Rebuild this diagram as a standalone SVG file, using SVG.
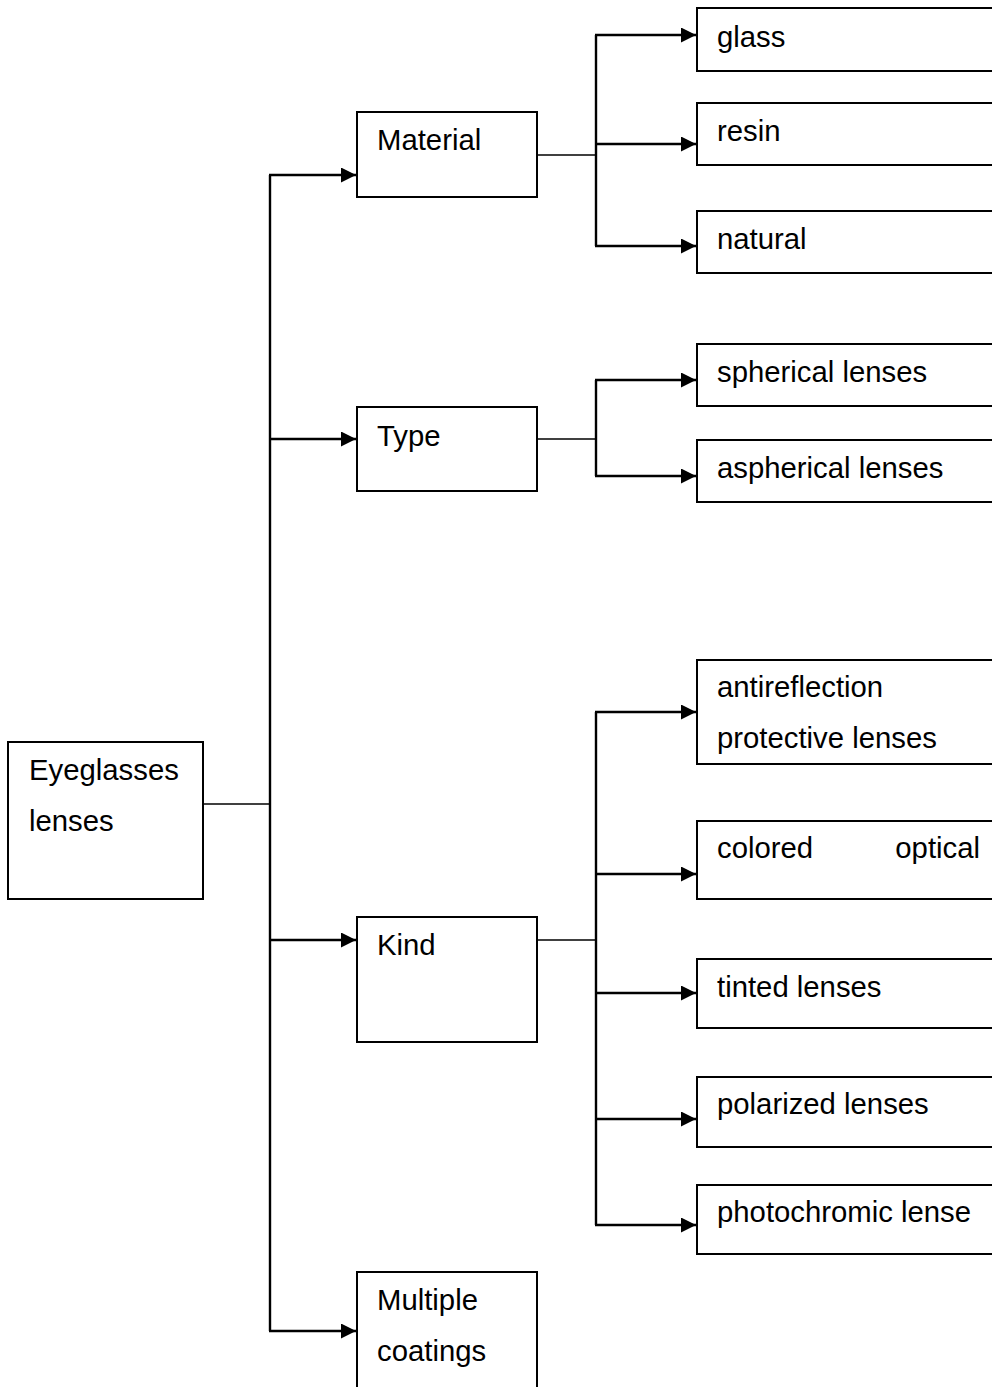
<svg xmlns="http://www.w3.org/2000/svg" width="992" height="1387" viewBox="0 0 992 1387">
<style>
.box{fill:#fff;stroke:#000;stroke-width:2}
.t{font-family:"Liberation Sans",Arial,sans-serif;font-size:29.3px;fill:#000}
.ln{fill:none;stroke:#000;stroke-width:1.6}
.ar{fill:none;stroke:#000;stroke-width:2.4;marker-end:url(#ah)}
.bus{fill:none;stroke:#000;stroke-width:2.4}
</style>
<defs>
<marker id="ah" markerUnits="userSpaceOnUse" markerWidth="16" markerHeight="16" refX="15" refY="7.5" orient="auto">
<path d="M0,0 L15,7.5 L0,15 Z" fill="#000"/>
</marker>
</defs>
<rect width="992" height="1387" fill="#fff"/>
<g id="connectors">
<line class="ln" x1="203" y1="804" x2="270" y2="804"/>
<line class="bus" x1="270" y1="175" x2="270" y2="1331"/>
<line class="ar" x1="269" y1="175" x2="356" y2="175"/>
<line class="ar" x1="270" y1="439" x2="356" y2="439"/>
<line class="ar" x1="270" y1="940" x2="356" y2="940"/>
<line class="ar" x1="269" y1="1331" x2="356" y2="1331"/>
<line class="ln" x1="537" y1="155" x2="596" y2="155"/>
<line class="bus" x1="596" y1="35" x2="596" y2="246"/>
<line class="ar" x1="595" y1="35" x2="696" y2="35"/>
<line class="ar" x1="596" y1="144" x2="696" y2="144"/>
<line class="ar" x1="595" y1="246" x2="696" y2="246"/>
<line class="ln" x1="537" y1="439" x2="596" y2="439"/>
<line class="bus" x1="596" y1="380" x2="596" y2="476"/>
<line class="ar" x1="595" y1="380" x2="696" y2="380"/>
<line class="ar" x1="595" y1="476" x2="696" y2="476"/>
<line class="ln" x1="537" y1="940" x2="596" y2="940"/>
<line class="bus" x1="596" y1="712" x2="596" y2="1225"/>
<line class="ar" x1="595" y1="712" x2="696" y2="712"/>
<line class="ar" x1="596" y1="874" x2="696" y2="874"/>
<line class="ar" x1="596" y1="993" x2="696" y2="993"/>
<line class="ar" x1="596" y1="1119" x2="696" y2="1119"/>
<line class="ar" x1="595" y1="1225" x2="696" y2="1225"/>
</g>
<g id="n-eyeglasses"><rect class="box" x="8" y="742" width="195" height="157"/><text class="t" x="29" y="780">Eyeglasses</text><text class="t" x="29" y="831">lenses</text></g>
<g id="n-material"><rect class="box" x="357" y="112" width="180" height="85"/><text class="t" x="377" y="150">Material</text></g>
<g id="n-type"><rect class="box" x="357" y="407" width="180" height="84"/><text class="t" x="377" y="446">Type</text></g>
<g id="n-kind"><rect class="box" x="357" y="917" width="180" height="125"/><text class="t" x="377" y="955">Kind</text></g>
<g id="n-multiple"><rect class="box" x="357" y="1272" width="180" height="140"/><text class="t" x="377" y="1310">Multiple</text><text class="t" x="377" y="1361">coatings</text></g>
<g id="n-glass"><rect class="box" x="697" y="8" width="310" height="63"/><text class="t" x="717" y="47">glass</text></g>
<g id="n-resin"><rect class="box" x="697" y="103" width="310" height="62"/><text class="t" x="717" y="141">resin</text></g>
<g id="n-natural"><rect class="box" x="697" y="211" width="310" height="62"/><text class="t" x="717" y="249">natural</text></g>
<g id="n-spherical"><rect class="box" x="697" y="344" width="310" height="62"/><text class="t" x="717" y="382">spherical lenses</text></g>
<g id="n-aspherical"><rect class="box" x="697" y="440" width="310" height="62"/><text class="t" x="717" y="478">aspherical lenses</text></g>
<g id="n-antireflection"><rect class="box" x="697" y="660" width="310" height="104"/><text class="t" x="717" y="697">antireflection</text><text class="t" x="717" y="748">protective lenses</text></g>
<g id="n-colored"><rect class="box" x="697" y="821" width="310" height="78"/><text class="t" x="717" y="858">colored</text><text class="t" x="980" y="858" text-anchor="end">optical</text></g>
<g id="n-tinted"><rect class="box" x="697" y="959" width="310" height="69"/><text class="t" x="717" y="997">tinted lenses</text></g>
<g id="n-polarized"><rect class="box" x="697" y="1077" width="310" height="70"/><text class="t" x="717" y="1114">polarized lenses</text></g>
<g id="n-photochromic"><rect class="box" x="697" y="1185" width="310" height="69"/><text class="t" x="717" y="1222">photochromic lense</text></g>
</svg>
